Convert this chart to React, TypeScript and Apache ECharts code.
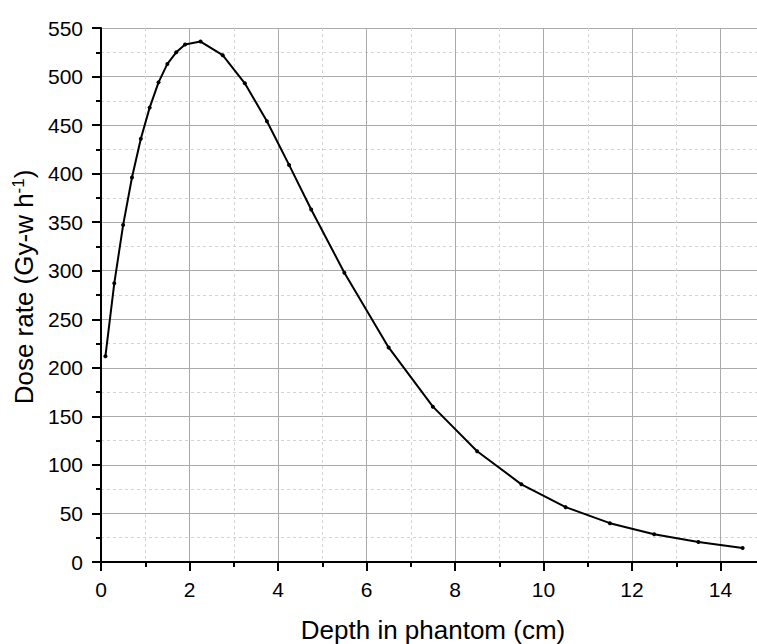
import React, { useEffect, useRef } from "react";
import * as echarts from "echarts";

const depthCm = [0.1, 0.3, 0.5, 0.7, 0.9, 1.1, 1.3, 1.5, 1.7, 1.9, 2.25, 2.75, 3.25, 3.75, 4.25, 4.75, 5.5, 6.5, 7.5, 8.5, 9.5, 10.5, 11.5, 12.5, 13.5, 14.5];
const doseRate = [212, 287, 347, 396, 436, 468, 494, 513, 525, 533, 536, 522, 493, 454, 409, 363, 298, 221, 160, 114, 80, 56.5, 40, 28.5, 20.5, 14.5];
const xTitle = "Depth in phantom (cm)";
const yTitle = "Dose rate (Gy-w h{sup|-1})";

const FONT = "'Liberation Sans', Arial, sans-serif";

export default function App() {
  const ref = useRef<HTMLDivElement>(null);
  useEffect(() => {
    if (!ref.current) return;
    const chart = echarts.init(ref.current, null, { renderer: "svg" });
    const data = depthCm.map((x, i) => [x, doseRate[i]]);
    chart.setOption({
      animation: false,
      backgroundColor: "#ffffff",
      grid: { left: 101, top: 28, right: 1, bottom: 82, containLabel: false, outerBoundsMode: "none" },
      xAxis: {
        type: "value",
        min: 0,
        max: 16,
        interval: 2,
        axisLine: { show: true, onZero: false, lineStyle: { color: "#000", width: 2 } },
        axisTick: { show: true, length: 9, lineStyle: { color: "#000", width: 2 } },
        minorTick: { show: true, splitNumber: 2, length: 5, lineStyle: { color: "#000", width: 2 } },
        axisLabel: { fontFamily: FONT, fontSize: 21, color: "#000", margin: 17, showMaxLabel: false },
        splitLine: { show: true, lineStyle: { color: "#aaaaaa", width: 1 } },
        minorSplitLine: { show: true, lineStyle: { color: "#d4d4d4", width: 1, type: [3, 3] } },
      },
      yAxis: {
        type: "value",
        min: 0,
        max: 550,
        interval: 50,
        name: yTitle,
        nameLocation: "middle",
        nameGap: 59,
        nameTextStyle: {
          fontFamily: FONT,
          fontSize: 26,
          color: "#000",
          padding: [0, 0, 0, 16],
          rich: {
            sup: { fontFamily: FONT, fontSize: 17, color: "#000", verticalAlign: "top", padding: [0, 0, 12, 0] },
          },
        },
        axisLine: { show: true, onZero: false, lineStyle: { color: "#000", width: 2 } },
        axisTick: { show: true, length: 9, lineStyle: { color: "#000", width: 2 } },
        minorTick: { show: true, splitNumber: 2, length: 5, lineStyle: { color: "#000", width: 2 } },
        axisLabel: { fontFamily: FONT, fontSize: 21, color: "#000", margin: 18 },
        splitLine: { show: true, lineStyle: { color: "#aaaaaa", width: 1 } },
        minorSplitLine: { show: true, lineStyle: { color: "#d4d4d4", width: 1, type: [3, 3] } },
      },
      graphic: [
        {
          type: "text",
          x: 433,
          y: 630,
          style: { text: xTitle, fontFamily: FONT, fontSize: 26, fill: "#000", textAlign: "center", textVerticalAlign: "middle" },
        },
      ],
      series: [
        {
          type: "line",
          data,
          symbol: "circle",
          symbolSize: 4,
          showSymbol: true,
          smooth: false,
          lineStyle: { color: "#000", width: 2 },
          itemStyle: { color: "#000" },
          clip: false,
        },
      ],
    });
    return () => chart.dispose();
  }, []);
  return (
    <div style={{ position: "absolute", left: 0, top: 0, width: 757, height: 644, overflow: "hidden", background: "#fff" }}>
      <div ref={ref} style={{ width: 810, height: 644 }} />
    </div>
  );
}
